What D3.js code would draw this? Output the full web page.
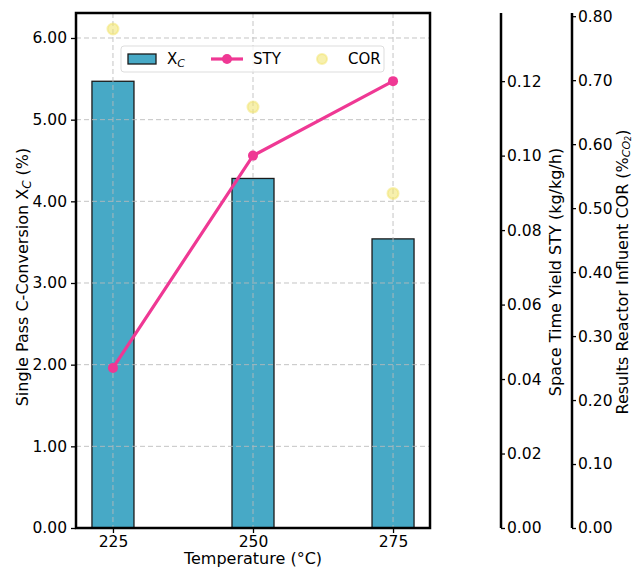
<!DOCTYPE html>
<meta charset="utf-8">
<style>
body { margin: 0; background: #fff; }
text { font-family: "DejaVu Sans", sans-serif; fill: #000; }
.tick text { font-size: 15.5px; }
.lbl { font-size: 16px; }
.leg { font-size: 15px; }
</style>
<svg width="633" height="568"></svg>
<script src="https://d3js.org/d3.v7.min.js"></script>
<script>

// temperatures (°C)
var temps = [225, 250, 275];
// single pass C-conversion X_C (%)
var xc = [5.47, 4.28, 3.54];
// space time yield STY (kg/kg/h)
var sty = [0.043, 0.100, 0.120];
// reactor influent COR
var cor = [0.78, 0.658, 0.523];

var xTicks = [225, 250, 275];
var yTicks = [0, 1, 2, 3, 4, 5, 6];
var styTicks = [0, 0.02, 0.04, 0.06, 0.08, 0.10, 0.12];
var corTicks = [0, 0.1, 0.2, 0.3, 0.4, 0.5, 0.6, 0.7, 0.8];

var svg = d3.select("svg");
var pL = 76, pR = 430, pT = 13, pB = 528;

var x = d3.scaleLinear().domain([218.4, 281.6]).range([pL, pR]);
var y = d3.scaleLinear().domain([0, 6.306]).range([pB, pT]);
var yS = d3.scaleLinear().domain([0, 0.1383]).range([pB, pT]);
var yC = d3.scaleLinear().domain([0, 0.805]).range([pB, pT]);

var barW = 7.5; // in °C

// bars
svg.append("g").selectAll("rect")
  .data(temps)
  .enter().append("rect")
  .attr("x", function(d) { return x(d - barW / 2); })
  .attr("width", function(d) { return x(d + barW / 2) - x(d - barW / 2); })
  .attr("y", function(d, i) { return y(xc[i]); })
  .attr("height", function(d, i) { return pB - y(xc[i]); })
  .attr("fill", "#47a9c6")
  .attr("stroke", "#1a1a1a")
  .attr("stroke-width", 1.3);

// grid
var grid = svg.append("g").attr("stroke", "#bbb").attr("stroke-width", 1).attr("stroke-dasharray", "5,3").attr("opacity", 0.85);
grid.selectAll(".gy").data(yTicks.slice(1)).enter().append("line")
  .attr("x1", pL).attr("x2", pR)
  .attr("y1", function(d) { return y(d); }).attr("y2", function(d) { return y(d); });
grid.selectAll(".gx").data(xTicks).enter().append("line")
  .attr("y1", pT).attr("y2", pB)
  .attr("x1", function(d) { return x(d); }).attr("x2", function(d) { return x(d); });

// STY line
var line = d3.line()
  .x(function(d, i) { return x(temps[i]); })
  .y(function(d) { return yS(d); });
svg.append("path").datum(sty)
  .attr("d", line)
  .attr("fill", "none")
  .attr("stroke", "#ef3894")
  .attr("stroke-width", 3.2);
svg.append("g").selectAll("circle").data(sty).enter().append("circle")
  .attr("cx", function(d, i) { return x(temps[i]); })
  .attr("cy", function(d) { return yS(d); })
  .attr("r", 5)
  .attr("fill", "#ef3894");

// COR points
svg.append("g").selectAll("circle").data(cor).enter().append("circle")
  .attr("cx", function(d, i) { return x(temps[i]); })
  .attr("cy", function(d) { return yC(d); })
  .attr("r", 5.5)
  .attr("fill", "#f1e46a")
  .attr("fill-opacity", 0.55)
  .attr("stroke", "#f1e46a")
  .attr("stroke-opacity", 0.5)
  .attr("stroke-width", 2);

// axes
var fmt2 = d3.format(".2f");
var gx = svg.append("g").attr("transform", "translate(0," + pB + ")")
  .call(d3.axisBottom(x).tickValues(xTicks).tickSize(5).tickPadding(3));
var gy = svg.append("g").attr("transform", "translate(" + pL + ",0)")
  .call(d3.axisLeft(y).tickValues(yTicks).tickFormat(fmt2).tickSize(5).tickPadding(4));
var gs = svg.append("g").attr("transform", "translate(501,0)")
  .call(d3.axisRight(yS).tickValues(styTicks).tickFormat(fmt2).tickSize(4).tickPadding(2));
var gc = svg.append("g").attr("transform", "translate(572,0)")
  .call(d3.axisRight(yC).tickValues(corTicks).tickFormat(fmt2).tickSize(4).tickPadding(2));
[gx, gy, gs, gc].forEach(function(g) {
  g.select(".domain").remove();
  g.selectAll(".tick line").attr("stroke", "#000").attr("stroke-width", 1.3);
  g.selectAll(".tick text").attr("font-family", null).attr("font-size", null).style("fill", "#000");
});

// frame and spines
svg.append("rect").attr("x", pL).attr("y", pT).attr("width", pR - pL).attr("height", pB - pT)
  .attr("fill", "none").attr("stroke", "#000").attr("stroke-width", 2.5);
svg.append("line").attr("x1", 501).attr("x2", 501).attr("y1", pT).attr("y2", pB)
  .attr("stroke", "#000").attr("stroke-width", 2.5);
svg.append("line").attr("x1", 572).attr("x2", 572).attr("y1", pT).attr("y2", pB)
  .attr("stroke", "#000").attr("stroke-width", 2.5);

// axis labels
svg.append("text").attr("class", "lbl").attr("x", 253).attr("y", 564)
  .attr("text-anchor", "middle").text("Temperature (°C)");

var ly = svg.append("text").attr("class", "lbl").attr("text-anchor", "middle")
  .attr("transform", "translate(28,277) rotate(-90)");
ly.append("tspan").text("Single Pass C-Conversion X");
ly.append("tspan").attr("font-size", "12px").attr("font-style", "italic").attr("dy", 3).text("C");
ly.append("tspan").attr("dy", -3).text(" (%)");

svg.append("text").attr("class", "lbl").attr("text-anchor", "middle")
  .attr("transform", "translate(561,272) rotate(-90)")
  .text("Space Time Yield STY (kg/kg/h)");

var lc = svg.append("text").attr("class", "lbl").attr("text-anchor", "middle")
  .attr("transform", "translate(628,272) rotate(-90)");
lc.append("tspan").text("Results Reactor Influent COR (%");
lc.append("tspan").attr("font-size", "11px").attr("font-style", "italic").attr("dy", 2).text("CO");
lc.append("tspan").attr("font-size", "8px").attr("font-style", "italic").attr("dy", 1).text("2");
lc.append("tspan").attr("dy", -3).text(")");

// legend
var lg = svg.append("g").attr("transform", "translate(121,46)");
lg.append("rect").attr("width", 263).attr("height", 26).attr("rx", 3)
  .attr("fill", "#fff").attr("fill-opacity", 0.8).attr("stroke", "#ddd");
lg.append("rect").attr("x", 7).attr("y", 8).attr("width", 28).attr("height", 10)
  .attr("fill", "#47a9c6").attr("stroke", "#1a1a1a").attr("stroke-width", 1.3);
var t1 = lg.append("text").attr("class", "leg").attr("x", 46).attr("y", 18);
t1.append("tspan").text("X");
t1.append("tspan").attr("font-size", "11px").attr("font-style", "italic").attr("dy", 3).text("C");
lg.append("line").attr("x1", 90).attr("x2", 122).attr("y1", 13).attr("y2", 13)
  .attr("stroke", "#ef3894").attr("stroke-width", 3.2);
lg.append("circle").attr("cx", 106).attr("cy", 13).attr("r", 5).attr("fill", "#ef3894");
lg.append("text").attr("class", "leg").attr("x", 132).attr("y", 18).text("STY");
lg.append("circle").attr("cx", 201).attr("cy", 13).attr("r", 5)
  .attr("fill", "#f1e46a").attr("fill-opacity", 0.55)
  .attr("stroke", "#f1e46a").attr("stroke-opacity", 0.5).attr("stroke-width", 2);
lg.append("text").attr("class", "leg").attr("x", 227).attr("y", 18).text("COR");

</script>
